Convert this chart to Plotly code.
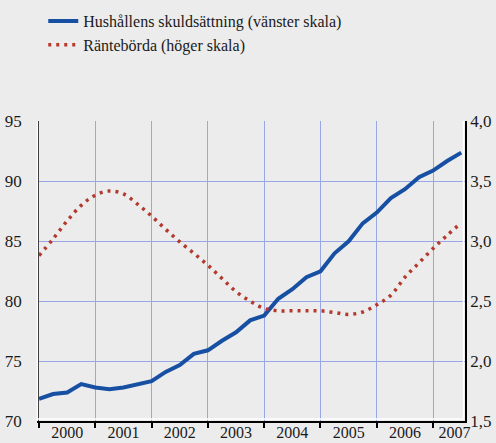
import plotly.graph_objects as go

# Quarterly observations, 2000 Q1 .. 2007 Q3 start
quarters = [2000 + i / 4 for i in range(31)]

skuld = [71.85, 72.25, 72.38, 73.08, 72.80, 72.65, 72.80, 73.10, 73.33, 74.10,
         74.67, 75.60, 75.90, 76.70, 77.40, 78.40, 78.80, 80.20, 81.00, 82.00,
         82.50, 84.00, 85.00, 86.50, 87.40, 88.60, 89.35, 90.35, 90.90, 91.70,
         92.40]

rantebord = [2.88, 3.02, 3.17, 3.30, 3.385, 3.42, 3.395, 3.31, 3.21, 3.10,
             2.995, 2.90, 2.80, 2.69, 2.58, 2.50, 2.44, 2.42, 2.42, 2.42,
             2.42, 2.405, 2.39, 2.41, 2.47, 2.55, 2.70, 2.82, 2.94, 3.05,
             3.155]

years = [2000, 2001, 2002, 2003, 2004, 2005, 2006, 2007]
year_labels = ["2000", "2001", "2002", "2003", "2004", "2005", "2006", "2007"]
left_ticks = [70, 75, 80, 85, 90, 95]
left_labels = ["70", "75", "80", "85", "90", "95"]
right_ticks = [1.5, 2.0, 2.5, 3.0, 3.5, 4.0]
right_labels = ["1,5", "2,0", "2,5", "3,0", "3,5", "4,0"]

name_skuld = "Hushållens skuldsättning (vänster skala)"
name_rante = "Räntebörda (höger skala)"

BG = "#ececec"
GRID = "#98a6e6"
BLUE = "#1750a3"
RED = "#b3392d"
FONT = "'Liberation Serif', 'DejaVu Serif', serif"
TXT = "#1a1a1a"

W, H = 496, 443
ML, MR, MT, MB = 39, 31, 121, 22
PW, PH = W - ML - MR, H - MT - MB

tickfont = dict(family=FONT, size=17, color=TXT)
xtickfont = dict(family=FONT, size=16, color=TXT)

# year labels sit mid-period; the last (partial) year is centred in its visible part
label_pos = [y + 0.5 for y in years[:-1]] + [years[-1] + 0.38]

fig = go.Figure()
fig.add_trace(go.Scatter(x=quarters, y=skuld, name=name_skuld, mode="lines",
                         line=dict(color=BLUE, width=4), yaxis="y"))
fig.add_trace(go.Scatter(x=quarters, y=rantebord, name=name_rante, mode="lines",
                         line=dict(color=RED, width=3.5, dash="3px,5px", shape="spline"),
                         yaxis="y2"))

shapes = [
    dict(type="line", xref="paper", yref="paper", x0=-1.5 / PW, x1=-1.5 / PW, y0=0, y1=1,
         line=dict(color="white", width=1.5), layer="above"),
    dict(type="line", xref="paper", yref="paper", x0=-1.5 / PW, x1=1 - 1.5 / PW,
         y0=2 / PH, y1=2 / PH, line=dict(color="white", width=1.5), layer="above"),
    dict(type="line", xref="paper", yref="paper", x0=1 - 1.5 / PW, x1=1 - 1.5 / PW,
         y0=2 / PH, y1=1, line=dict(color="white", width=1.5), layer="above"),
]

fig.update_layout(
    width=W, height=H,
    margin=dict(l=ML, r=MR, t=MT, b=MB, pad=0, autoexpand=False),
    paper_bgcolor=BG, plot_bgcolor=BG,
    font=dict(family=FONT, size=17, color=TXT),
    showlegend=True,
    legend=dict(x=0.01, y=1.39, xanchor="left", yanchor="top",
                bgcolor="rgba(0,0,0,0)", font=dict(family=FONT, size=16, color=TXT),
                itemwidth=30, tracegroupgap=0),
    shapes=shapes,
    xaxis=dict(range=[2000, 2007.567], tickmode="array",
               tickvals=label_pos, ticktext=year_labels,
               tickfont=xtickfont,
               ticks="", showgrid=False, zeroline=False, automargin=False,
               showline=True, linecolor="black", linewidth=1.5,
               ticklabelstandoff=-4,
               minor=dict(tickmode="array", tickvals=years, ticks="outside",
                          ticklen=5, tickwidth=1.5, tickcolor="black",
                          showgrid=True, gridcolor=GRID, gridwidth=1)),
    yaxis=dict(range=[70, 95.04], tickmode="array", tickvals=left_ticks,
               ticktext=left_labels, tickfont=tickfont,
               ticks="", showgrid=True, gridcolor=GRID,
               gridwidth=1, zeroline=False, showline=True, linecolor="black",
               linewidth=1.5, ticklabelstandoff=12, automargin=False),
    yaxis2=dict(range=[1.5, 4.004], overlaying="y", side="right", tickmode="array",
                tickvals=right_ticks, ticktext=right_labels, tickfont=tickfont,
                ticks="", showgrid=False, zeroline=False, showline=True, linecolor="black",
                linewidth=1.5, ticklabelstandoff=0, automargin=False),
)

fig.write_html("out.html", config={"displayModeBar": False},
               post_script="document.body.style.margin='0px';")
